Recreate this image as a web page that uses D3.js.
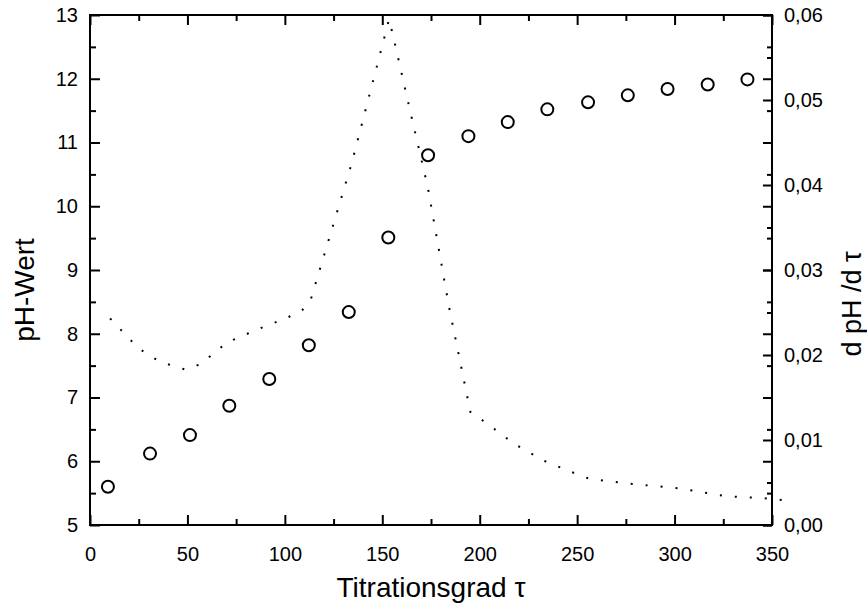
<!DOCTYPE html>
<html>
<head>
<meta charset="utf-8">
<script src="https://cdn.jsdelivr.net/npm/d3@7"></script>
<style>
  body { margin: 0; background: #fff; }
  text { font-family: "Liberation Sans", Arial, sans-serif; fill: #000; }
</style>
</head>
<body>
<svg id="chart"></svg>
<script>
/* measured points: titration degree vs pH */
const tau = [9.2, 30.8, 51.3, 71.5, 92.0, 112.3, 132.8, 153.1, 173.5, 194.2, 214.4, 234.7, 255.6, 276.0, 296.4, 317.0, 337.4];
const pH = [5.60, 6.12, 6.41, 6.87, 7.29, 7.82, 8.34, 9.51, 10.80, 11.10, 11.32, 11.52, 11.63, 11.74, 11.84, 11.91, 11.99];

/* derivative curve dpH/dtau (dotted) */
const dTau = [10.3, 24.8, 35.9, 48.8, 56.5, 63.0, 70.5, 85.9, 101.3, 109.0, 113.4, 134.1, 153.5, 155.7, 164.4, 173.4, 184.3, 195.2, 202.8, 218.0, 233.6, 248.6, 256.7, 279.8, 302.9, 326.0, 349.0, 356.8];
const dPH = [0.0243, 0.0208, 0.0192, 0.0183, 0.0189, 0.0201, 0.0215, 0.0230, 0.0244, 0.0253, 0.0266, 0.0424, 0.0595, 0.0574, 0.0486, 0.0397, 0.0256, 0.0133, 0.0121, 0.0095, 0.0075, 0.0061, 0.0054, 0.0048, 0.0043, 0.0034, 0.0031, 0.0029];

/* ticks */
const xTicks = [0, 50, 100, 150, 200, 250, 300, 350];
const xMinor = [25, 75, 125, 175, 225, 275, 325];
const leftTicks = [5, 6, 7, 8, 9, 10, 11, 12, 13];
const leftMinor = [5.5, 6.5, 7.5, 8.5, 9.5, 10.5, 11.5, 12.5];
const rightTicks = [0, 0.01, 0.02, 0.03, 0.04, 0.05, 0.06];
const rightMinor = [0.005, 0.015, 0.025, 0.035, 0.045, 0.055];

const width = 867;
const height = 609;
const svg = d3.select('#chart')
  .attr('width', width)
  .attr('height', height);

const x = d3.scaleLinear().domain([0, 350]).range([90, 772]);
const yL = d3.scaleLinear().domain([5, 13]).range([525, 15]);
const yR = d3.scaleLinear().domain([0, 0.06]).range([525, 15]);

const comma = d3.formatLocale({decimal: ',', thousands: '.', grouping: [3], currency: ['', '']}).format('.2f');

function styleAxis(g) {
  g.select('.domain').remove();
  g.selectAll('line').attr('stroke', '#000').attr('stroke-width', 2);
  g.selectAll('text').style('font-size', '20px').attr('fill', '#000');
}

// bottom axis
svg.append('g').attr('transform', 'translate(0,525)')
  .call(d3.axisBottom(x).tickValues(xTicks).tickSize(-10).tickPadding(22).tickFormat(d3.format('d')))
  .call(styleAxis);
svg.append('g').attr('transform', 'translate(0,525)')
  .call(d3.axisBottom(x).tickValues(xMinor).tickSize(-6).tickFormat(''))
  .call(styleAxis);
// top mirrored ticks
svg.append('g').attr('transform', 'translate(0,15)')
  .call(d3.axisTop(x).tickValues(xTicks).tickSize(-10).tickFormat(''))
  .call(styleAxis);
svg.append('g').attr('transform', 'translate(0,15)')
  .call(d3.axisTop(x).tickValues(xMinor).tickSize(-6).tickFormat(''))
  .call(styleAxis);

// left axis
svg.append('g').attr('transform', 'translate(90,0)')
  .call(d3.axisLeft(yL).tickValues(leftTicks).tickSize(-10).tickPadding(12).tickFormat(d3.format('d')))
  .call(styleAxis);
svg.append('g').attr('transform', 'translate(90,0)')
  .call(d3.axisLeft(yL).tickValues(leftMinor).tickSize(-6).tickFormat(''))
  .call(styleAxis);
// left ticks mirrored on the right frame
svg.append('g').attr('transform', 'translate(772,0)')
  .call(d3.axisRight(yL).tickValues(leftTicks).tickSize(-9).tickFormat(''))
  .call(styleAxis);
svg.append('g').attr('transform', 'translate(772,0)')
  .call(d3.axisRight(yL).tickValues(leftMinor).tickSize(-5).tickFormat(''))
  .call(styleAxis);

// right axis
svg.append('g').attr('transform', 'translate(772,0)')
  .call(d3.axisRight(yR).tickValues(rightTicks).tickSize(-9).tickPadding(12).tickFormat(comma))
  .call(styleAxis);
svg.append('g').attr('transform', 'translate(772,0)')
  .call(d3.axisRight(yR).tickValues(rightMinor).tickSize(-5).tickFormat(''))
  .call(styleAxis);

// frame
svg.append('rect')
  .attr('x', 90).attr('y', 15)
  .attr('width', 772 - 90).attr('height', 525 - 15)
  .attr('fill', 'none').attr('stroke', '#000').attr('stroke-width', 2);

// dotted derivative curve
const deriv = dTau.map((t, i) => [t, dPH[i]]);
svg.append('path')
  .datum(deriv)
  .attr('d', d3.line().x(d => x(d[0])).y(d => yR(d[1])))
  .attr('fill', 'none')
  .attr('stroke', '#000')
  .attr('stroke-width', 2)
  .attr('stroke-dasharray', '2,13');

// measured circles
svg.append('g')
  .selectAll('circle')
  .data(tau.map((t, i) => [t, pH[i]]))
  .enter().append('circle')
  .attr('cx', d => x(d[0]))
  .attr('cy', d => yL(d[1]))
  .attr('r', 6)
  .attr('fill', 'none')
  .attr('stroke', '#000')
  .attr('stroke-width', 2);

// axis titles
svg.append('text')
  .attr('x', 431).attr('y', 597)
  .attr('text-anchor', 'middle')
  .style('font-size', '28px')
  .text('Titrationsgrad τ');

svg.append('text')
  .attr('transform', 'translate(34,290) rotate(-90)')
  .attr('text-anchor', 'middle')
  .style('font-size', '28px')
  .text('pH-Wert');

svg.append('text')
  .attr('transform', 'translate(861,304) rotate(-90)')
  .attr('text-anchor', 'middle')
  .style('font-size', '27px')
  .text('d pH /d τ');
</script>
</body>
</html>
